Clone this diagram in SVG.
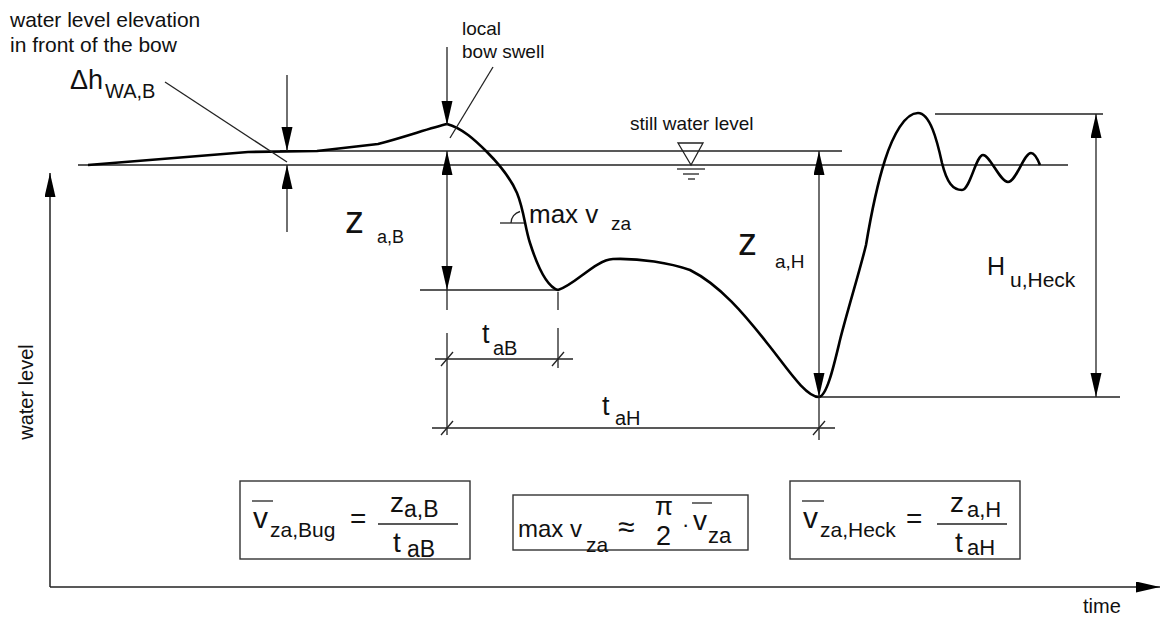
<svg xmlns="http://www.w3.org/2000/svg" width="1162" height="618" viewBox="0 0 1162 618">
<style>
text{font-family:"Liberation Sans",Arial,sans-serif;fill:#111}
.thin{stroke:#222;stroke-width:1.3;fill:none}
.axis{stroke:#222;stroke-width:1.5;fill:none}
.curve{stroke:#000;stroke-width:2.6;fill:none;stroke-linejoin:round}
.box{stroke:#333;stroke-width:1.4;fill:#fff}
.dim{stroke:#222;stroke-width:1.3;fill:none;marker-end:url(#ah)}
.dim2{stroke:#222;stroke-width:1.3;fill:none;marker-end:url(#ah);marker-start:url(#ahs)}
</style>
<defs>
<marker id="ah" markerUnits="userSpaceOnUse" markerWidth="26" markerHeight="12" refX="24" refY="5.5" orient="auto"><path d="M0,0 L24,5.5 L0,11 Z" fill="#000"/></marker>
<marker id="ahs" markerUnits="userSpaceOnUse" markerWidth="26" markerHeight="12" refX="24" refY="5.5" orient="auto-start-reverse"><path d="M0,0 L24,5.5 L0,11 Z" fill="#000"/></marker>
</defs>
<rect width="1162" height="618" fill="#fff"/>

<g id="axes">
<line class="axis" x1="50" y1="587" x2="50" y2="173" marker-end="url(#ah)"/>
<line class="axis" x1="50" y1="587" x2="1160" y2="587" marker-end="url(#ah)"/>
<text transform="translate(33,392) rotate(-90)" text-anchor="middle" font-size="20">water level</text>
<text x="1083" y="613" font-size="20">time</text>
</g>

<g id="reference-lines">
<line class="thin" x1="280" y1="151" x2="842" y2="151"/>
<line class="thin" x1="78" y1="165" x2="1068" y2="165"/>
<line class="thin" x1="420" y1="290" x2="558" y2="290"/>
<line class="thin" x1="819" y1="397" x2="1120" y2="397"/>
<line class="thin" x1="935" y1="114" x2="1103" y2="114"/>
</g>

<g id="still-water-symbol">
<path class="thin" d="M678,143 L703,143 L691,165 Z"/>
<line class="thin" x1="677" y1="169" x2="705" y2="169"/>
<line class="thin" x1="683" y1="174" x2="699" y2="174"/>
<line class="thin" x1="688" y1="179" x2="695" y2="179"/>
<text x="630" y="130" font-size="19">still water level</text>
</g>

<g id="water-level-curve">
<path class="curve" d="M88,165 L248,152 L317,151 L378,144 C405,137 430,128 447,124 C462,128 475,140 487,152 C499,164 510,177 517,193 C524,210 525,228 530,243 C537,265 547,287 558,290 C575,285 595,260 613,259 C640,258 670,263 690,270 C720,285 745,315 767,343 C785,365 805,397 819,397 C827,396 834,365 840,340 C847,312 860,270 866,245 C871,215 877,185 885,160 C893,135 905,113 918,113 C930,113 937,140 942,163 C947,183 953,190 962,190 C970,190 976,155 983,155 C990,155 1000,182 1008,182 C1016,182 1024,153 1031,153 C1035,153 1038,160 1040,165"/>
</g>

<g id="connectors">
<line class="dim" x1="287" y1="75" x2="287" y2="151"/>
<line class="dim" x1="287" y1="232" x2="287" y2="165"/>
<line class="thin" x1="165" y1="82" x2="287" y2="162"/>
<line class="dim" x1="447" y1="47" x2="447" y2="125"/>
<line class="thin" x1="493" y1="67" x2="450" y2="138"/>
<line class="dim2" x1="447" y1="151" x2="447" y2="290"/>
<line class="thin" x1="447" y1="290" x2="447" y2="310"/>
<line class="thin" x1="447" y1="333" x2="447" y2="435"/>
<line class="thin" x1="558" y1="292" x2="558" y2="310"/>
<line class="thin" x1="558" y1="328" x2="558" y2="368"/>
<line class="dim2" x1="819" y1="151" x2="819" y2="397"/>
<line class="thin" x1="819" y1="397" x2="819" y2="440"/>
<line class="dim2" x1="1096" y1="114" x2="1096" y2="397"/>
<line class="thin" x1="435" y1="359" x2="573" y2="359"/>
<line class="thin" x1="432" y1="428" x2="835" y2="428"/>
<line class="thin" x1="441" y1="366" x2="453" y2="352"/>
<line class="thin" x1="552" y1="366" x2="564" y2="352"/>
<line class="thin" x1="441" y1="435" x2="453" y2="421"/>
<line class="thin" x1="813" y1="435" x2="825" y2="421"/>
<line class="thin" x1="500" y1="223" x2="524" y2="223"/>
<path class="thin" d="M511,223 A12,12 0 0 1 520,211.5"/>
</g>

<g id="labels">
<text x="10" y="27" font-size="21">water level elevation</text>
<text x="10" y="52" font-size="21">in front of the bow</text>
<text x="462" y="35" font-size="19">local</text>
<text x="462" y="58" font-size="19">bow swell</text>
<text x="70" y="89" font-size="27">Δh</text>
<text x="105" y="98" font-size="20">WA,B</text>
<text x="529" y="223" font-size="26">max v</text>
<text x="611" y="230" font-size="19">za</text>
<text x="345" y="233" font-size="38">z</text>
<text x="377" y="243" font-size="18">a,B</text>
<text x="738" y="255" font-size="38">z</text>
<text x="775" y="268" font-size="19">a,H</text>
<text x="987" y="275" font-size="25">H</text>
<text x="1010" y="287" font-size="21">u,Heck</text>
<text x="482" y="343" font-size="27">t</text>
<text x="493" y="355" font-size="20">aB</text>
<text x="602" y="415" font-size="27">t</text>
<text x="615" y="425" font-size="20">aH</text>
</g>

<g id="formula-bug">
<rect class="box" x="240" y="481" width="230" height="78"/>
<line class="thin" x1="252" y1="501" x2="273" y2="501"/>
<text x="253" y="528" font-size="30">v</text>
<text x="270" y="537" font-size="21">za,Bug</text>
<text x="350" y="528" font-size="28">=</text>
<text x="390" y="512" font-size="28">z</text>
<text x="404" y="517" font-size="23">a,B</text>
<line class="thin" x1="378" y1="524" x2="458" y2="524"/>
<text x="393" y="552" font-size="28">t</text>
<text x="407" y="557" font-size="23">aB</text>
</g>

<g id="formula-max">
<rect class="box" x="513" y="495" width="235" height="55"/>
<text x="518" y="537" font-size="24">max v</text>
<text x="586" y="552" font-size="21">za</text>
<text x="618" y="537" font-size="30">≈</text>
<text x="655" y="515" font-size="26">π</text>
<text x="656" y="545" font-size="27">2</text>
<text x="682" y="532" font-size="22">·</text>
<line class="thin" x1="692" y1="503" x2="712" y2="503"/>
<text x="693" y="530" font-size="28">v</text>
<text x="708" y="543" font-size="22">za</text>
</g>

<g id="formula-heck">
<rect class="box" x="790" y="481" width="230" height="78"/>
<line class="thin" x1="802" y1="501" x2="824" y2="501"/>
<text x="803" y="528" font-size="30">v</text>
<text x="820" y="537" font-size="21">za,Heck</text>
<text x="906" y="528" font-size="28">=</text>
<text x="950" y="512" font-size="28">z</text>
<text x="967" y="517" font-size="22">a,H</text>
<line class="thin" x1="937" y1="524" x2="1007" y2="524"/>
<text x="955" y="552" font-size="28">t</text>
<text x="967" y="555" font-size="22">aH</text>
</g>
</svg>
